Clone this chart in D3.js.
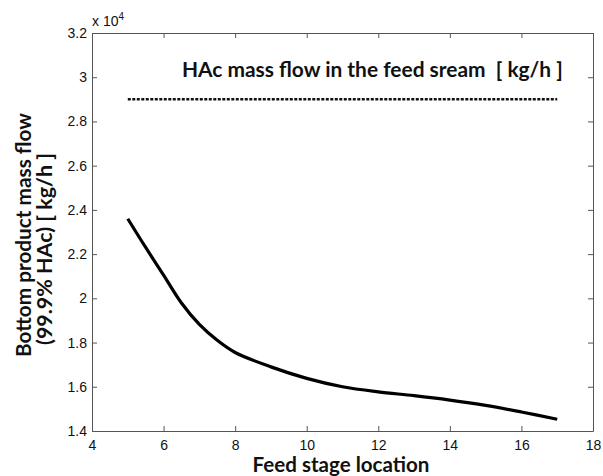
<!DOCTYPE html>
<html>
<head>
<meta charset="utf-8">
<script src="https://cdn.jsdelivr.net/npm/d3@7"></script>
<style>
  body { margin: 0; background: #fff; }
  .tick text { font-family: "Liberation Sans", Arial, sans-serif; font-size: 14px; fill: #111; }
  .lbl { font-family: Lato, "Open Sans", sans-serif; font-weight: bold; fill: #111; }
</style>
</head>
<body>
<svg id="chart" width="603" height="476"></svg>
<script>
// feed stage vs bottom product flow (x 10^4 kg/h)
var stages = [5, 5.5, 6, 6.5, 7, 7.5, 8, 9, 10, 11, 12, 13, 14, 15, 16, 17];
var bottomFlow = [2.36, 2.23, 2.105, 1.979, 1.882, 1.81, 1.755, 1.69, 1.638, 1.600, 1.577, 1.560, 1.540, 1.516, 1.486, 1.453];
var feedStages = [5, 17];
var feedFlow = [2.9, 2.9];
var xTicks = [4, 6, 8, 10, 12, 14, 16, 18];
var yTicks = [1.4, 1.6, 1.8, 2, 2.2, 2.4, 2.6, 2.8, 3, 3.2];

var svg = d3.select("#chart");
var mLeft = 92, mRight = 593, mTop = 33, mBottom = 431;

var x = d3.scaleLinear().domain([4, 18]).range([mLeft, mRight]);
var y = d3.scaleLinear().domain([1.4, 3.2]).range([mBottom, mTop]);

/* axes, box style with inward ticks */
function styleAxis(g) {
	g.select(".domain").attr("stroke", "#555").attr("stroke-width", 1);
	g.selectAll(".tick line").attr("stroke", "#555");
}

svg.append("g").attr("transform", "translate(0," + mBottom + ")")
	.call(d3.axisBottom(x).tickValues(xTicks).tickSize(-5).tickSizeOuter(0).tickPadding(9).tickFormat(d3.format("d")))
	.call(styleAxis);
svg.append("g").attr("transform", "translate(0," + mTop + ")")
	.call(d3.axisTop(x).tickValues(xTicks).tickSize(-5).tickSizeOuter(0).tickFormat(""))
	.call(styleAxis);
svg.append("g").attr("transform", "translate(" + mLeft + ",0)")
	.call(d3.axisLeft(y).tickValues(yTicks).tickSize(-5).tickSizeOuter(0).tickPadding(5).tickFormat(function(d){ return d3.format("")(d); }))
	.call(styleAxis);
svg.append("g").attr("transform", "translate(" + mRight + ",0)")
	.call(d3.axisRight(y).tickValues(yTicks).tickSize(-5).tickSizeOuter(0).tickFormat(""))
	.call(styleAxis);

// exponent label
var ex = svg.append("text").attr("x", 92).attr("y", 26)
	.style("font-family", "Liberation Sans, Arial, sans-serif").style("font-size", "14px").attr("fill", "#111");
ex.append("tspan").text("x 10");
ex.append("tspan").attr("dy", -6).style("font-size", "10px").text("4");

/* data lines */
var line = d3.line().x(function(d){ return x(d[0]); }).y(function(d){ return y(d[1]); });

svg.append("path")
	.datum(d3.zip(feedStages, feedFlow))
	.attr("d", line)
	.attr("fill", "none").attr("stroke", "#111").attr("stroke-width", 2.5)
	.attr("stroke-dasharray", "3,1.5");

svg.append("path")
	.datum(d3.zip(stages, bottomFlow))
	.attr("d", line.curve(d3.curveCatmullRom))
	.attr("fill", "none").attr("stroke", "#000").attr("stroke-width", 3.2);

/* labels, sized to the widths in the picture */
function fit(t, w) {
	var len = t.node().getComputedTextLength();
	var fs = parseFloat(t.style("font-size"));
	t.style("font-size", (fs * w / len) + "px");
}

var ann = svg.append("text").attr("class", "lbl").attr("x", 182).attr("y", 77)
	.style("font-size", "18px").attr("xml:space", "preserve")
	.text("HAc mass flow in the feed sream  [ kg/h ]");
fit(ann, 381);

var xl = svg.append("text").attr("class", "lbl").attr("x", 341).attr("y", 472)
	.attr("text-anchor", "middle").style("font-size", "17px")
	.text("Feed stage location");
fit(xl, 177);

var yl1 = svg.append("text").attr("class", "lbl").attr("text-anchor", "middle")
	.attr("transform", "translate(31,235) rotate(-90)").style("font-size", "18px")
	.text("Bottom product mass flow");
fit(yl1, 244);
var yl2 = svg.append("text").attr("class", "lbl").attr("text-anchor", "middle")
	.attr("transform", "translate(52,249) rotate(-90)").style("font-size", "18px")
	.text("(99.9% HAc) [ kg/h ]");
fit(yl2, 192);
</script>
</body>
</html>
